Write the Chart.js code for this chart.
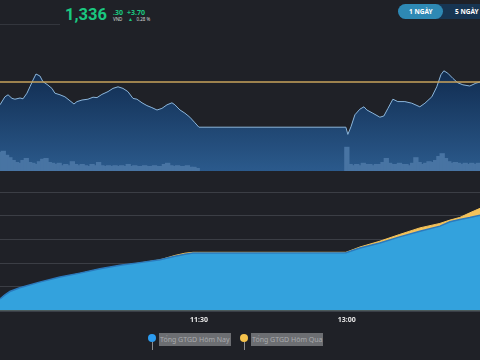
<!DOCTYPE html>
<html>
<head>
<meta charset="utf-8">
<script src="https://cdn.jsdelivr.net/npm/chart.js@4.4.0/dist/chart.umd.min.js"></script>
<style>
  html, body { margin: 0; padding: 0; background: #1f2127; }
  body { width: 480px; height: 360px; position: relative; overflow: hidden; font-family: 'Noto Sans', sans-serif; }
  .abs { position: absolute; white-space: nowrap; line-height: 1; }
  .green { color: #1ac880; font-weight: bold; }
  .tiny { font-size: 4.5px; color: #d8d8d8; }
  .btn { position: absolute; top: 4px; height: 15px; border-radius: 7.5px; }
  .btn span { position: absolute; top: 4.5px; font-size: 6.5px; font-weight: bold; color: #fff; line-height: 1; }
  .pin { position: absolute; width: 8px; height: 8px; border-radius: 50%; top: 334px; }
  .stem { position: absolute; width: 1px; height: 8px; top: 342px; background: #8a8d92; }
  .lbl { position: absolute; top: 333px; height: 13px; background: #6c6e72; color: #a9abae; font-size: 7px; line-height: 13px; padding: 0 1px; }
</style>
</head>
<body>
<div class="abs" style="left:0;top:24px;width:60px;height:1px;background:#33363d"></div>
<div class="abs green" style="left:65px;top:7px;font-family:Roboto;font-size:16.5px">1,336</div>
<div class="abs green" style="left:113px;top:9px;font-size:7px">.30</div>
<div class="abs tiny" style="left:113px;top:17px">VND</div>
<div class="abs green" style="left:127px;top:9px;font-size:7px">+3.70</div>
<div class="abs green" style="left:128px;top:16.5px;font-size:5px">▲</div>
<div class="abs tiny" style="left:136.5px;top:17px">0.28 %</div>

<div class="btn" style="left:398px;width:90px;background:#173552"><span style="left:57px">5 NGÀY</span></div>
<div class="btn" style="left:398px;width:45px;background:#2e89b4"><span style="left:11px">1 NGÀY</span></div>

<div class="abs" style="left:0;top:26px;width:480px;height:145px"><canvas id="priceChart"></canvas></div>
<div class="abs" style="left:0;top:190px;width:480px;height:139px"><canvas id="gtgdChart"></canvas></div>

<div class="pin" style="left:148px;background:#2c9cf0"></div>
<div class="stem" style="left:151.5px"></div>
<div class="lbl" style="left:159px">Tổng GTGD Hôm Nay</div>
<div class="pin" style="left:240px;background:#f5c24c"></div>
<div class="stem" style="left:243.5px"></div>
<div class="lbl" style="left:251px">Tổng GTGD Hôm Qua</div>

<script>
// minutes since midnight (9:29 .. 14:21)
const X_MIN = 569;
const X_MAX = 861;
const tickMinutes = [690, 780];
const tickLabels = ['11:30', '13:00'];

const refPrice = 1332.6;

const priceMinutes = [569, 572, 573.9, 576.3, 578.1, 581.2, 583, 585.4, 587.2, 589.1, 590.9, 593.3, 595.1, 597.6,
  600.6, 602.4, 605.5, 608.5, 611.6, 614, 615.8, 618.9, 622.5, 625.6, 628, 631, 634.7, 637.7, 640.8, 643.8,
  646.8, 649.9, 652.3, 655.4, 658.4, 661.4, 664.5, 667.5, 670.6, 673.6, 675.4, 678.5, 681.5, 684.5, 687.6, 690,
  779.4, 780.6, 782.5, 784.9, 787.9, 790.4, 792.2, 795.8, 800.1, 802.5, 805, 808, 811, 815.3, 819.5, 824.4,
  827.5, 831.7, 834.7, 837.2, 839, 841.4, 844.5, 847.5, 850.6, 854.8, 858.5, 861];
const priceValues = [1326.9, 1328.9, 1329.4, 1328.5, 1328.3, 1328.6, 1328.4, 1329.8, 1331.4, 1333.1, 1334.6, 1334.1, 1332.7, 1332.0,
  1331.0, 1329.8, 1329.4, 1328.9, 1327.9, 1327.1, 1327.7, 1328.1, 1328.3, 1328.8, 1328.7, 1329.5, 1330.2, 1331.0, 1331.4, 1331.0,
  1330.2, 1328.5, 1328.3, 1327.4, 1326.7, 1326.2, 1325.6, 1326.0, 1326.9, 1327.4, 1326.9, 1325.6, 1324.8, 1323.8, 1322.4, 1321.3,
  1321.3, 1319.5, 1321.4, 1324.4, 1325.8, 1326.4, 1325.6, 1324.8, 1323.8, 1324.1, 1326.0, 1328.3, 1327.7, 1327.7, 1327.3, 1326.4,
  1327.3, 1328.9, 1331.4, 1334.4, 1335.4, 1334.8, 1333.5, 1332.4, 1331.9, 1331.6, 1332.3, 1332.6];

const volMinutes = [569, 571, 573, 575, 577, 579, 581, 583, 585, 587, 589, 591, 593, 595, 597, 599, 601, 603, 605, 607,
  609, 611, 613, 615, 617, 619, 621, 623, 625, 627, 629, 631, 633, 635, 637, 639, 641, 643, 645, 647,
  649, 651, 653, 655, 657, 659, 661, 663, 665, 667, 669, 671, 673, 675, 677, 679, 681, 683, 685, 687, 689,
  780, 782, 784, 786, 788, 790, 792, 794, 796, 798, 800, 802, 804, 806, 808, 810, 812, 814, 816, 818,
  820, 822, 824, 826, 828, 830, 832, 834, 836, 838, 840, 842, 844, 846, 848, 850, 852, 854, 856, 858, 860];
const volValues = [4.5, 4.8, 3.8, 3.2, 2.5, 2.0, 1.8, 2.5, 3.0, 2.0, 1.8, 1.5, 2.2, 2.8, 3.0, 2.0, 1.8, 1.5, 1.8, 1.2,
  1.5, 1.2, 2.2, 1.5, 1.2, 1.5, 1.2, 1.0, 1.5, 1.2, 2.0, 1.2, 1.0, 1.2, 1.0, 1.2, 1.0, 1.2, 1.0, 1.5,
  1.0, 1.2, 1.0, 1.0, 1.2, 1.0, 1.0, 1.2, 1.0, 1.0, 1.5, 1.8, 1.2, 1.0, 1.2, 1.0, 1.0, 1.2, 0.8, 0.8, 0.5,
  5.8, 1.5, 1.2, 1.5, 1.2, 1.8, 1.5, 1.5, 1.2, 1.5, 1.5, 2.0, 3.0, 1.8, 1.5, 1.5, 1.8, 1.5, 1.5, 1.2,
  1.8, 3.2, 2.0, 1.5, 1.8, 2.2, 2.0, 2.5, 3.5, 4.2, 3.0, 2.2, 1.8, 2.0, 1.8, 1.5, 1.8, 1.5, 1.8, 1.5, 1.8];

// cumulative traded value (ty VND)
const gtgdMinutes = [569, 572, 575, 581, 593, 605.5, 617.6, 629.8, 642, 654, 666.3, 675.4, 681.5, 686.4, 690,
  779.4, 788, 800, 812, 824.4, 836.6, 842.7, 848.7, 854.8, 861];
const gtgdToday = [1980, 2660, 3220, 3850, 4800, 5650, 6320, 7070, 7630, 8090, 8590, 9150, 9490, 9710, 9710,
  9760, 10560, 11410, 12430, 13390, 14240, 14970, 15370, 15710, 16100];
const gtgdYesterday = [1950, 2600, 3150, 3780, 4700, 5560, 6250, 6990, 7560, 8030, 8560, 9300, 9680, 9830, 9830,
  9830, 10730, 11700, 12830, 13950, 14700, 15260, 15710, 16490, 17240];

const toPts = (xs, ys) => xs.map((x, i) => ({ x: x, y: ys[i] }));

function priceGradient(ctx) {
    const a = ctx.chart.chartArea;
    if (!a) return '#1a3a60';
    const g = ctx.chart.ctx.createLinearGradient(0, a.top, 0, a.bottom);
    g.addColorStop(0, '#0b1b2e');
    g.addColorStop(0.4, '#143258');
    g.addColorStop(1, '#2b5a8c');
    return g;
}

Chart.defaults.font.family = "'Noto Sans', sans-serif";
Chart.defaults.animation = false;

new Chart(document.getElementById('priceChart').getContext('2d'), {
    type: 'line',
    data: {
        datasets: [
            { label: 'Tham chiếu', data: toPts([X_MIN, X_MAX], [refPrice, refPrice]), borderColor: '#c9a35c', borderWidth: 1.5, pointRadius: 0, fill: false, order: 0 },
            { type: 'bar', label: 'KL', data: toPts(volMinutes, volValues), yAxisID: 'yv', backgroundColor: '#4874a3', borderWidth: 0, inflateAmount: 1, barPercentage: 1, categoryPercentage: 1, order: 1 },
            { label: 'VN30', data: toPts(priceMinutes, priceValues), borderColor: '#8cb7dd', borderWidth: 1, pointRadius: 0, tension: 0, fill: 'start', backgroundColor: priceGradient, order: 2 }
        ]
    },
    options: {
        responsive: true,
        maintainAspectRatio: false,
        devicePixelRatio: 1,
        layout: { padding: 0, autoPadding: false },
        scales: {
            x: { type: 'linear', min: X_MIN, max: X_MAX, offset: false, display: false },
            y: { min: 1310.35, max: 1346.6, display: false },
            yv: { min: 0, max: 36.25, display: false }
        },
        plugins: { legend: { display: false }, tooltip: { enabled: false } }
    }
});

new Chart(document.getElementById('gtgdChart').getContext('2d'), {
    type: 'line',
    data: {
        datasets: [
            { label: 'Tổng GTGD Hôm Nay', data: toPts(gtgdMinutes, gtgdToday), borderColor: '#2a79bd', borderWidth: 1.5, backgroundColor: '#33a2dd', fill: 'origin', pointRadius: 0, tension: 0 },
            { label: 'Tổng GTGD Hôm Qua', data: toPts(gtgdMinutes, gtgdYesterday), borderColor: '#f3c25b', borderWidth: 1, backgroundColor: '#f3c25b', fill: 'origin', pointRadius: 0, tension: 0 }
        ]
    },
    options: {
        responsive: true,
        maintainAspectRatio: false,
        devicePixelRatio: 1,
        layout: { padding: { top: 2, left: 0, right: 0, bottom: 0 }, autoPadding: false },
        scales: {
            x: {
                type: 'linear', min: X_MIN, max: X_MAX, offset: false,
                grid: { display: false, drawTicks: false },
                border: { display: true, color: '#3a3f47', width: 2 },
                afterBuildTicks: s => { s.ticks = tickMinutes.map(v => ({ value: v })); },
                ticks: {
                    autoSkip: false, maxRotation: 0, padding: 5,
                    color: '#e6e6e6', font: { size: 7, weight: 'bold' },
                    callback: v => tickLabels[tickMinutes.indexOf(v)]
                }
            },
            y: {
                min: 0, max: 20000,
                ticks: { stepSize: 4000, display: false },
                grid: { color: '#3b3e45', drawTicks: false },
                border: { display: false }
            }
        },
        plugins: { legend: { display: false }, tooltip: { enabled: false } }
    }
});
</script>
</body>
</html>
